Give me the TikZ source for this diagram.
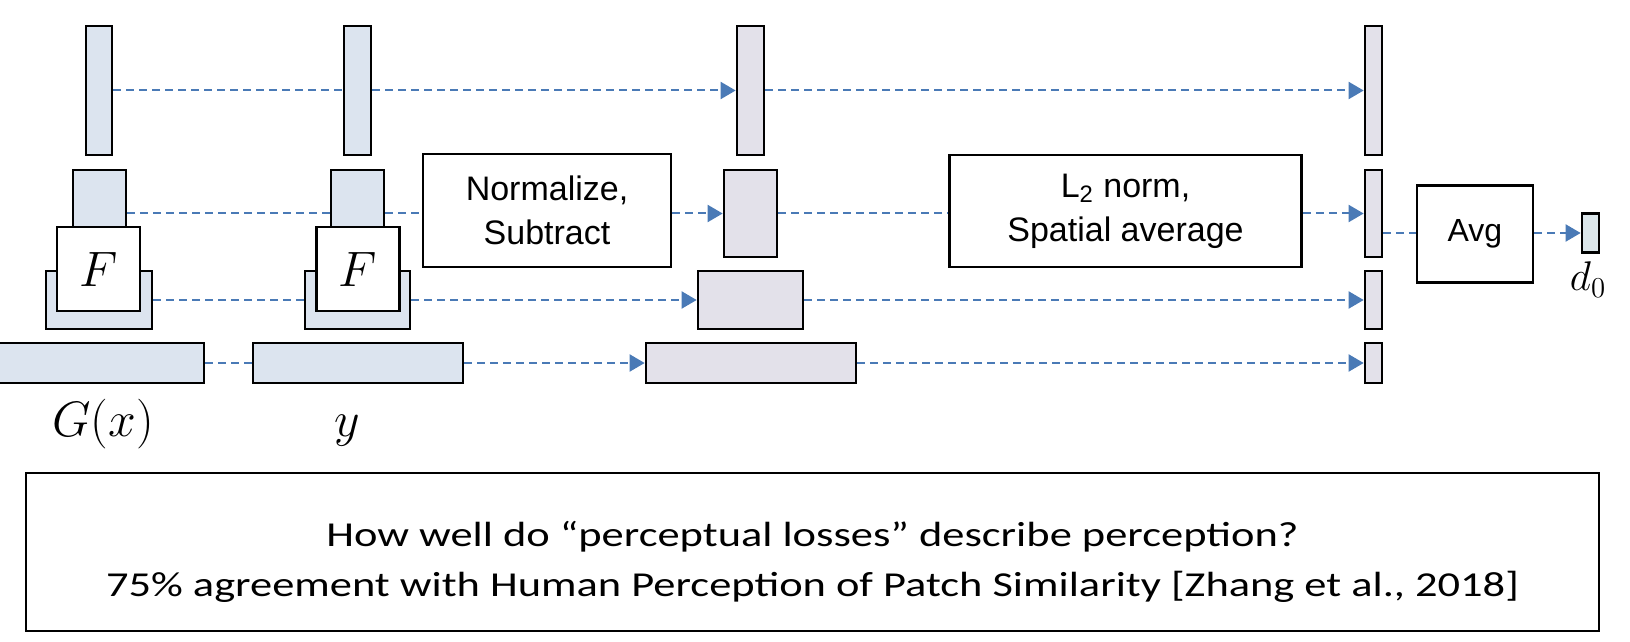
\documentclass[tikz,border=0pt]{standalone}
\usepackage{fontspec}
\setmainfont{Liberation Sans}
\newfontfamily\calfont[FakeStretch=1.27]{Carlito}
\usetikzlibrary{arrows.meta}
\definecolor{featblue}{RGB}{220,228,239}
\definecolor{featgray}{RGB}{227,225,234}
\definecolor{outgray}{RGB}{219,230,234}
\definecolor{linkblue}{RGB}{74,122,182}

\begin{document}
\begin{tikzpicture}[x=0.5pt,y=-0.5pt,
    featbox/.style 2 args={draw=black,line width=1.35pt,inner sep=0pt,
      minimum width=#1*0.5pt,minimum height=#2*0.5pt},
    gfeat/.style 2 args={featbox={#1}{#2},fill=featblue},
    mfeat/.style 2 args={featbox={#1}{#2},fill=featgray},
    opbox/.style 2 args={featbox={#1}{#2},fill=white,align=center,
      font=\fontsize{17}{22}\selectfont},
    netbox/.style={featbox={83}{84},fill=white,font=\fontsize{24}{24}\selectfont},
    link/.style={draw=linkblue,line width=1pt,dash pattern=on 4pt off 2.5pt},
    linkto/.style={link,-{Triangle[length=7.5pt,width=8.5pt]}},
    lbl/.style={anchor=base,font=\fontsize{26}{26}\selectfont}]
  \useasboundingbox (0,0) rectangle (1630,642);

  % G(x) features
  \node[gfeat={26}{129}] (g1) at (99,90.5) {};
  \node[gfeat={53}{87}] (g2) at (99.5,213.5) {};
  \node[gfeat={106}{58}] (g3) at (99,300) {};
  \node[gfeat={210}{40}] (g4) at (99,363) {};
  \node[netbox] (gnet) at (98.5,269) {$F$};
  \node[lbl] (gx) at (103,436) {$G(x)$};

  % y features
  \node[gfeat={27}{129}] (y1) at (357.5,90.5) {};
  \node[gfeat={53}{87}] (y2) at (357.5,213.5) {};
  \node[gfeat={105}{58}] (y3) at (357.5,300) {};
  \node[gfeat={210}{40}] (y4) at (358,363) {};
  \node[netbox] (ynet) at (358,269) {$F$};
  \node[lbl] (ylab) at (347,436) {$y$};

  % normalized differences
  \node[mfeat={27}{129}] (m1) at (750.5,90.5) {};
  \node[mfeat={53}{87}] (m2) at (750.5,213.5) {};
  \node[mfeat={105}{58}] (m3) at (750.5,300) {};
  \node[mfeat={210}{40}] (m4) at (751,363) {};

  % per-layer distances
  \node[mfeat={17}{129}] (r1) at (1373.5,90.5) {};
  \node[mfeat={17}{87}] (r2) at (1373.5,213.5) {};
  \node[mfeat={17}{58}] (r3) at (1373.5,300) {};
  \node[mfeat={17}{40}] (r4) at (1373.5,363) {};

  \node[opbox={248}{113}] (norm) at (547,210.5) {Normalize,\\Subtract};
  \node[opbox={352}{112}] (l2) at (1125.5,211) {L\textsubscript{2} norm,\\Spatial average};
  \node[opbox={116}{97},font=\fontsize{16}{20}\selectfont] (avg) at (1475,234) {Avg};
  \node[featbox={17}{39},fill=outgray] (d0) at (1590.5,233) {};
  \node[anchor=base,font=\fontsize{20}{20}\selectfont] (dlab) at (1588,291) {$d_0$};

  % row 1
  \draw[link] (g1) -- (y1);
  \draw[linkto] (y1) -- (m1);
  \draw[linkto] (m1) -- (r1);
  % row 2
  \draw[link] (g2) -- (y2);
  \draw[link] (y2.east) -- (y2.east -| norm.west);
  \draw[linkto] (norm.east |- m2.west) -- (m2.west);
  \draw[link] (m2.east) -- (m2.east -| l2.west);
  \draw[linkto] (l2.east |- r2.west) -- (r2.west);
  % row 3
  \draw[link] (g3) -- (y3);
  \draw[linkto] (y3) -- (m3);
  \draw[linkto] (m3) -- (r3);
  % row 4
  \draw[link] (g4) -- (y4);
  \draw[linkto] (y4) -- (m4);
  \draw[linkto] (m4) -- (r4);
  % average
  \draw[link] (r2.east |- d0.west) -- (r2.east |- d0.west -| avg.west);
  \draw[linkto] (avg.east |- d0.west) -- (d0.west);

  \node[draw=black,line width=1.35pt,minimum width=1573*0.5pt,minimum height=158*0.5pt] (note) at (812.5,552) {};
  \node[align=center,font=\calfont\fontsize{17.5}{25}\selectfont] (notetext) at (812.5,562)
    {How well do “perceptual losses” describe perception?\\75\% agreement with Human Perception of Patch Similarity [Zhang et al., 2018]};
\end{tikzpicture}
\end{document}
